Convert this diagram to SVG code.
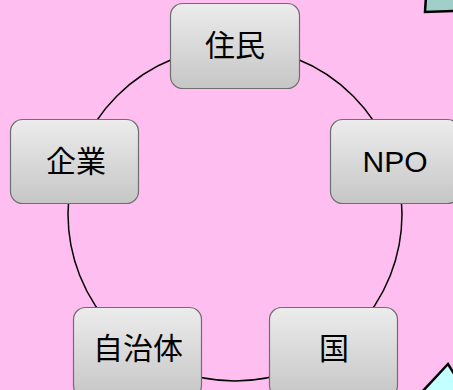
<svg xmlns="http://www.w3.org/2000/svg" width="453" height="390" viewBox="0 0 453 390">
  <defs>
    <linearGradient id="boxGrad" x1="0" y1="0" x2="0" y2="1">
      <stop offset="0" stop-color="#ececec"/>
      <stop offset="1" stop-color="#c6c6c6"/>
    </linearGradient>
    <style>
      .box { fill: url(#boxGrad); stroke: #6e6e6e; stroke-width: 1.2; }
      .lbl { font-family: "Noto Sans CJK JP", "Liberation Sans", sans-serif; font-size: 30px; fill: #000; text-anchor: middle; }
      .lat { font-family: "Liberation Sans", Arial, sans-serif; font-size: 30px; fill: #000; text-anchor: middle; }
      .conn { fill: none; stroke: #000; stroke-width: 1.5; }
    </style>
  </defs>
  <rect x="0" y="0" width="453" height="390" fill="#ffbef0"/>
  <polygon points="426,-4 425,12 456,11 456,-4" fill="#a0cfc9" stroke="#000" stroke-width="2.5"/>
  <polygon points="448,364 421,393 470,400" fill="#c4ffff" stroke="#000" stroke-width="2.5"/>
  <g id="connectors">
    <circle class="conn" cx="235" cy="214" r="167"/>
  </g>
  <g id="node-jumin">
    <rect class="box" x="170.5" y="3.5" width="129" height="85" rx="12"/>
    <text class="lbl" x="235" y="56">住民</text>
  </g>
  <g id="node-kigyo">
    <rect class="box" x="10.5" y="119.5" width="128" height="84" rx="12"/>
    <text class="lbl" x="76" y="172">企業</text>
  </g>
  <g id="node-npo">
    <rect class="box" x="330.5" y="119.5" width="129" height="84" rx="12"/>
    <text class="lat" x="395" y="172">NPO</text>
  </g>
  <g id="node-jichitai">
    <rect class="box" x="73.5" y="307.5" width="128" height="90" rx="12"/>
    <text class="lbl" x="138" y="359">自治体</text>
  </g>
  <g id="node-kuni">
    <rect class="box" x="269.5" y="307.5" width="128" height="90" rx="12"/>
    <text class="lbl" x="334" y="359">国</text>
  </g>
</svg>
